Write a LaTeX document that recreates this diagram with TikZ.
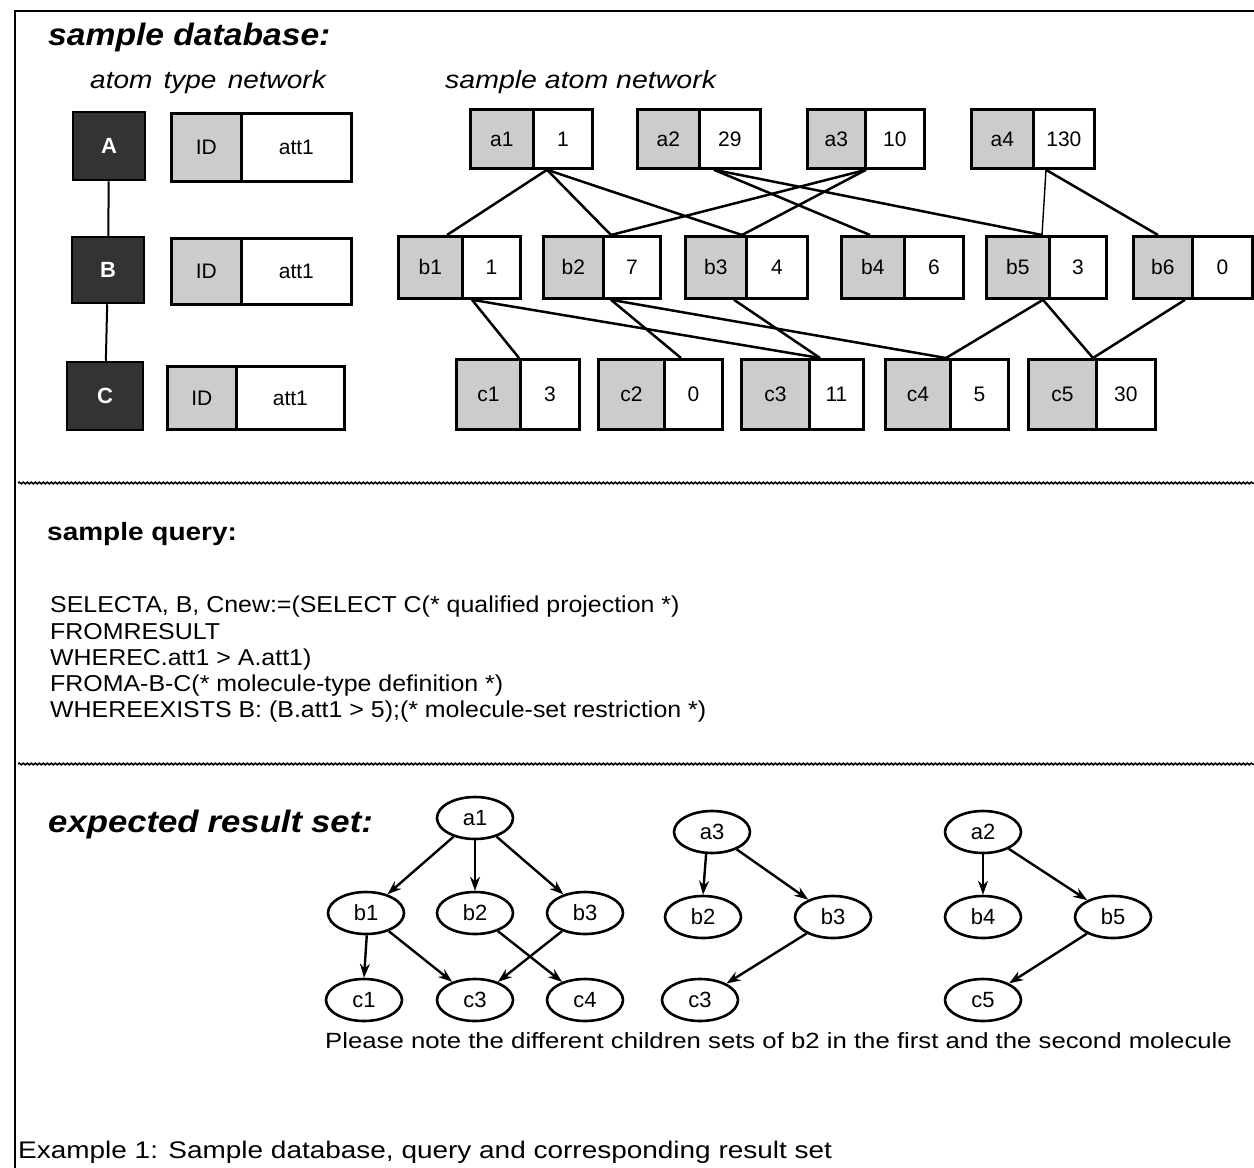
\documentclass[tikz,border=0pt]{standalone}
\usepackage{graphicx}
\usepackage{fontspec}
\setmainfont{Liberation Sans}
\usetikzlibrary{arrows.meta,decorations.pathmorphing,shapes.geometric,calc}
\newcommand\atomcell[8]{%
  \node[labpart, minimum width={(#3-#2)*1pt}, minimum height={(#6-#5)*1pt}] (#1l) at (#2,#5) {#7};
  \node[valpart, minimum width={(#4-#3)*1pt}, minimum height={(#6-#5)*1pt}] (#1r) at (#3,#5) {#8};
}
\newcommand\wide[2]{\scalebox{#1}[1]{#2}}
\begin{document}
\begin{tikzpicture}[x=1pt,y=-1pt,
  labpart/.style={draw, line width=2.8pt, fill=gray!40, inner sep=0pt, anchor=north west, font=\fontsize{21}{24}\selectfont},
  valpart/.style={draw, line width=2.8pt, fill=white, inner sep=0pt, anchor=north west, font=\fontsize{21}{24}\selectfont},
  typebox/.style={draw, line width=2.5pt, fill=black!80, text=white, font=\bfseries\fontsize{22}{24}\selectfont, inner sep=0pt},
  link/.style={line width=2.5pt},
  mol/.style={draw, ellipse, line width=2.6pt, inner sep=0pt, minimum width=76pt, minimum height=42pt, font=\fontsize{22}{24}\selectfont},
  arr/.style={line width=2.4pt, -{Stealth[length=14pt,width=10pt]}},
  sep/.style={line width=1.5pt, decorate, decoration={snake, amplitude=0.9pt, segment length=4pt}},
  title/.style={anchor=base west, inner sep=0pt, font=\bfseries\itshape\fontsize{31}{34}\selectfont},
  sub/.style={anchor=base west, inner sep=0pt, font=\itshape\fontsize{25}{28}\selectfont},
  qline/.style={anchor=base west, inner sep=0pt, font=\fontsize{23}{26}\selectfont},
]
\useasboundingbox (0,0) rectangle (1254,1168);
\fill[white] (0,0) rectangle (1254,1168);

% frame and separators
\draw[line width=1.8pt] (15,1168) -- (15,11) -- (1254,11);
\draw[sep] (18,483) -- (1254,483);
\draw[sep] (18,764) -- (1254,764);

% titles
\node[title] (tdb) at (48,45) {\wide{1.085}{sample database:}};
\node[sub] (tatn) at (90,88) {\wide{1.12}{atom\hspace{10pt}type\hspace{10pt}network}};
\node[sub] (tsan) at (445,88) {\wide{1.14}{sample atom network}};

% atom type network
\node[typebox, minimum width=72pt, minimum height=68pt] (A) at (109,146) {A};
\node[typebox, minimum width=72pt, minimum height=66pt] (B) at (108,270) {B};
\node[typebox, minimum width=76pt, minimum height=68pt] (C) at (105,396) {C};
\draw[line width=2pt] (A) -- (B);
\draw[line width=2pt] (B) -- (C);
\atomcell{tA}{170}{240}{350}{112}{180}{ID}{att1}
\atomcell{tB}{170}{240}{350}{237}{303}{ID}{att1}
\atomcell{tC}{166}{235}{343}{365}{428}{ID}{att1}

% sample atom network
\atomcell{a1}{469}{532}{591}{108}{167}{a1}{1}
\atomcell{a2}{636}{698}{759}{108}{167}{a2}{29}
\atomcell{a3}{806}{864}{923}{108}{167}{a3}{10}
\atomcell{a4}{970}{1032}{1093}{108}{167}{a4}{130}

\atomcell{b1}{397}{461}{519}{235}{297}{b1}{1}
\atomcell{b2}{542}{602}{659}{235}{297}{b2}{7}
\atomcell{b3}{684}{745}{806}{235}{297}{b3}{4}
\atomcell{b4}{840}{903}{962}{235}{297}{b4}{6}
\atomcell{b5}{985}{1048}{1105}{235}{297}{b5}{3}
\atomcell{b6}{1132}{1191}{1251}{235}{297}{b6}{0}

\atomcell{c1}{455}{519}{578}{358}{428}{c1}{3}
\atomcell{c2}{597}{663}{721}{358}{428}{c2}{0}
\atomcell{c3}{740}{808}{862}{358}{428}{c3}{11}
\atomcell{c4}{884}{949}{1007}{358}{428}{c4}{5}
\atomcell{c5}{1027}{1095}{1154}{358}{428}{c5}{30}

\coordinate (a1o) at ([xshift=15pt]a1r.south west);
\coordinate (a2o) at ([xshift=16pt]a2r.south west);
\coordinate (a3o) at ([xshift=2pt]a3r.south west);
\coordinate (a4o) at ([xshift=14pt]a4r.south west);
\coordinate (b1i) at ([xshift=50pt]b1l.north west);
\coordinate (b2i) at ([xshift=9pt]b2r.north west);
\coordinate (b3i) at ([xshift=-3pt]b3r.north west);
\coordinate (b4i) at ([xshift=30pt]b4l.north west);
\coordinate (b5i) at ([xshift=-6pt]b5r.north west);
\coordinate (b6i) at ([xshift=26pt]b6l.north west);
\coordinate (b1o) at ([xshift=11pt]b1r.south west);
\coordinate (b2o) at ([xshift=9pt]b2r.south west);
\coordinate (b3o) at ([xshift=-11pt]b3r.south west);
\coordinate (b5o) at ([xshift=-5pt]b5r.south west);
\coordinate (b6o) at ([xshift=53pt]b6l.south west);
\coordinate (c1i) at (c1r.north west);
\coordinate (c2i) at ([xshift=18pt]c2r.north west);
\coordinate (c3i) at ([xshift=12pt]c3r.north west);
\coordinate (c4i) at ([xshift=-3pt]c4r.north west);
\coordinate (c5i) at ([xshift=-2pt]c5r.north west);

\draw[link] (a1o) -- (b1i);
\draw[link] (a1o) -- (b2i);
\draw[link] (a1o) -- (b3i);
\draw[link] (a2o) -- (b4i);
\draw[link] (a2o) -- (b5i);
\draw[link] (a3o) -- (b2i);
\draw[link] (a3o) -- (b3i);
\draw[line width=1.4pt] (a4o) -- (b5i);
\draw[link] (a4o) -- (b6i);
\draw[link] (b1o) -- (c1i);
\draw[link] (b1o) -- (c3i);
\draw[link] (b2o) -- (c2i);
\draw[link] (b2o) -- (c4i);
\draw[link] (b3o) -- (c3i);
\draw[link] (b5o) -- (c4i);
\draw[link] (b5o) -- (c5i);
\draw[link] (b6o) -- (c5i);

% sample query
\node[anchor=base west, inner sep=0pt, font=\bfseries\fontsize{25}{28}\selectfont] (tsq) at (47,540) {\wide{1.12}{sample query:}};
\node[qline] (q1) at (50,612) {\wide{1.084}{SELECTA, B, Cnew:=(SELECT C(* qualified projection *)}};
\node[qline] (q2) at (50,639) {\wide{1.084}{FROMRESULT}};
\node[qline] (q3) at (50,665) {\wide{1.084}{WHEREC.att1 > A.att1)}};
\node[qline] (q4) at (50,691) {\wide{1.084}{FROMA-B-C(* molecule-type definition *)}};
\node[qline] (q5) at (50,717) {\wide{1.084}{WHEREEXISTS B: (B.att1 > 5);(* molecule-set restriction *)}};

% expected result set
\node[title] (tres) at (48,832) {\wide{1.12}{expected\hspace{8pt}result\hspace{8pt}set:}};

\node[mol] (m1a1) at (475,818) {a1};
\node[mol] (m1b1) at (366,913) {b1};
\node[mol] (m1b2) at (475,913) {b2};
\node[mol] (m1b3) at (585,913) {b3};
\node[mol] (m1c1) at (364,1000) {c1};
\node[mol] (m1c3) at (475,1000) {c3};
\node[mol] (m1c4) at (585,1000) {c4};
\draw[arr] (m1a1) -- (m1b1);
\draw[arr] (m1a1) -- (m1b2);
\draw[arr] (m1a1) -- (m1b3);
\draw[arr] (m1b1.272) -- (m1c1.north);
\draw[arr] (m1b1) -- (m1c3);
\draw[arr] (m1b2) -- (m1c4);
\draw[arr] (m1b3) -- (m1c3);

\node[mol] (m2a3) at (712,832) {a3};
\node[mol] (m2b2) at (703,917) {b2};
\node[mol] (m2b3) at (833,917) {b3};
\node[mol] (m2c3) at (700,1000) {c3};
\draw[arr] (m2a3.255) -- (m2b2.north);
\draw[arr] (m2a3) -- (m2b3);
\draw[arr] (m2b3) -- (m2c3);

\node[mol] (m3a2) at (983,832) {a2};
\node[mol] (m3b4) at (983,917) {b4};
\node[mol] (m3b5) at (1113,917) {b5};
\node[mol] (m3c5) at (983,1000) {c5};
\draw[arr] (m3a2) -- (m3b4);
\draw[arr] (m3a2) -- (m3b5);
\draw[arr] (m3b5) -- (m3c5);

\node[anchor=base west, inner sep=0pt, font=\fontsize{22}{24}\selectfont] (note) at (325,1048) {\wide{1.17}{Please note the different children sets of b2 in the first and the second molecule}};
\node[anchor=base west, inner sep=0pt, font=\fontsize{24}{28}\selectfont] (cap) at (18,1158) {\wide{1.165}{Example 1: Sample database, query and corresponding result set}};
\end{tikzpicture}
\end{document}
